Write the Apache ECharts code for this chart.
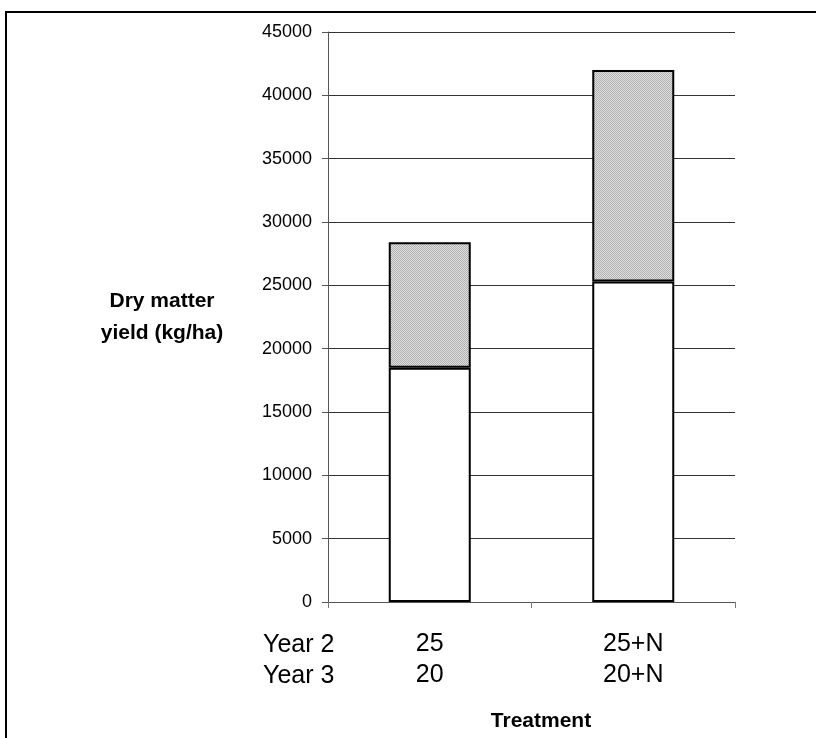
<!DOCTYPE html>
<html>
<head>
<meta charset="utf-8">
<script src="https://cdn.jsdelivr.net/npm/echarts@6/dist/echarts.min.js"></script>
<style>html,body{margin:0;padding:0;background:#fff}#c{width:816px;height:738px}</style>
</head>
<body>
<div id="c"></div>
<script>
// Data
const year2Labels = ['25', '25+N'];
const year3Labels = ['20', '20+N'];
const lowerYield = [18500, 25300];
const upperYield = [9900, 16700];
const yTicks = [0, 5000, 10000, 15000, 20000, 25000, 30000, 35000, 40000, 45000];
const rowLabels = ['Year 2', 'Year 3'];
const yTitle = 'Dry matter\nyield (kg/ha)';
const xTitle = 'Treatment';

const categories = year2Labels.map((v, i) => v + '\n' + year3Labels[i]);

// checker pattern for the upper segment
const pc = document.createElement('canvas');
pc.width = 2; pc.height = 2;
const pctx = pc.getContext('2d');
pctx.fillStyle = '#dedede'; pctx.fillRect(0, 0, 2, 2);
pctx.fillStyle = '#b2b2b2'; pctx.fillRect(0, 0, 1, 1); pctx.fillRect(1, 1, 1, 1);

const FONT = '"Liberation Sans", Arial, sans-serif';
const chart = echarts.init(document.getElementById('c'), null, {renderer: 'canvas'});
chart.setOption({
  animation: false,
  backgroundColor: '#fff',
  grid: {left: 328, right: 81, top: 32, bottom: 136, containLabel: false},
  xAxis: {
    type: 'category',
    data: categories,
    axisLine: {lineStyle: {color: '#555', width: 1}},
    axisTick: {show: true, length: 6, alignWithLabel: false, lineStyle: {color: '#777'}},
    axisLabel: {color: '#000', fontFamily: FONT, fontSize: 25, lineHeight: 31, margin: 27}
  },
  yAxis: {
    type: 'value',
    min: yTicks[0], max: yTicks[yTicks.length - 1], interval: 5000,
    axisLine: {show: true, lineStyle: {color: '#555', width: 1}},
    axisTick: {show: true, length: 6, lineStyle: {color: '#555'}},
    axisLabel: {color: '#000', fontFamily: FONT, fontSize: 18, margin: 16, formatter: v => String(v)},
    splitLine: {show: true, lineStyle: {color: '#333', width: 1}}
  },
  series: [
    {
      type: 'bar', stack: 'a', data: lowerYield, barWidth: 82,
      itemStyle: {color: '#fff', borderColor: '#000', borderWidth: 2}
    },
    {
      type: 'bar', stack: 'a', data: upperYield, barWidth: 82,
      itemStyle: {color: {image: pc, repeat: 'repeat'}, borderColor: '#000', borderWidth: 2}
    }
  ],
  graphic: [
    {type: 'rect', shape: {x: 6, y: 12, width: 900, height: 900}, style: {fill: 'none', stroke: '#000', lineWidth: 2}, silent: true},
    {type: 'text', left: 263, top: 630, style: {text: rowLabels.join('\n'), font: '25px ' + FONT, lineHeight: 31, fill: '#000'}},
    {type: 'text', x: 162, y: 317, style: {text: yTitle, font: 'bold 21px ' + FONT, lineHeight: 32, fill: '#000', align: 'center', verticalAlign: 'middle'}},
    {type: 'text', x: 541, y: 721, style: {text: xTitle, font: 'bold 21px ' + FONT, fill: '#000', align: 'center', verticalAlign: 'middle'}}
  ]
});
</script>
</body>
</html>
